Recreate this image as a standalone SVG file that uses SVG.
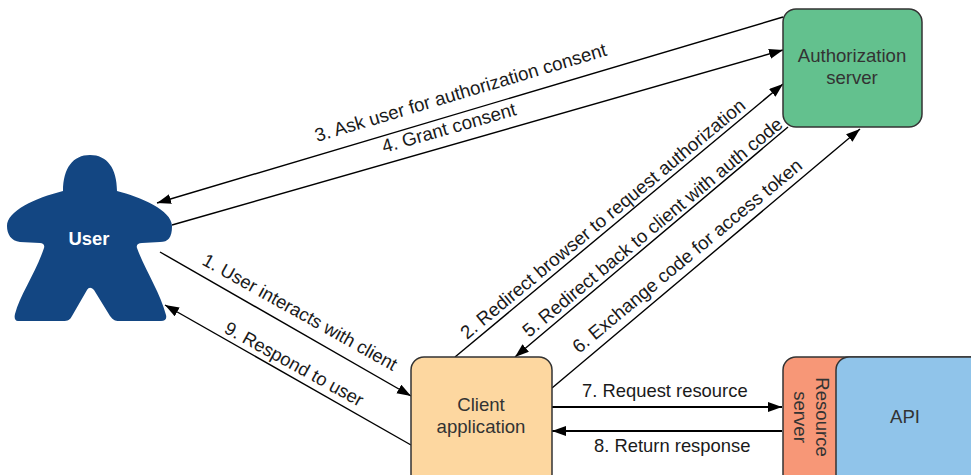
<svg xmlns="http://www.w3.org/2000/svg" width="971" height="475" viewBox="0 0 971 475">
<style>
text{font-family:"Liberation Sans",Arial,sans-serif;font-size:18.4px;fill:#1a1a1a}
.w{font-size:18.75px}
.n{font-size:18.6px;fill:#333;text-anchor:middle}
.box{stroke:#333;stroke-width:1.5}
.c{fill:none;stroke:#000;stroke-width:1.4}
.t{fill:none;stroke:#000;stroke-width:2.2}
</style>
<defs>
<marker id="a" markerUnits="userSpaceOnUse" markerWidth="16" markerHeight="12" refX="14" refY="5" orient="auto"><path d="M0 0L14 5L0 10Z" fill="#000"/></marker>
</defs>
<g id="connectors">
<path class="c" marker-end="url(#a)" d="M783 17L157 203"/>
<path class="c" marker-end="url(#a)" d="M172 225L783 50"/>
<path class="c" marker-end="url(#a)" d="M160 252L411 396"/>
<path class="c" marker-end="url(#a)" d="M411 445L165 305"/>
<path class="c" marker-end="url(#a)" d="M455 357L783 84"/>
<path class="c" marker-end="url(#a)" d="M788 127L515 357"/>
<path class="c" marker-end="url(#a)" d="M552 388L860 129"/>
<path class="t" marker-end="url(#a)" d="M552 407L782 407"/>
<path class="t" marker-end="url(#a)" d="M782 431L552 431"/>
</g>
<g id="labels">
<text class="w" transform="translate(317 142) rotate(-16.6)">3. Ask user for authorization consent</text>
<text class="w" transform="translate(384 153) rotate(-16)">4. Grant consent</text>
<text transform="translate(201 264) rotate(29.2)">1. User interacts with client</text>
<text transform="translate(223 332) rotate(28.8)">9. Respond to user</text>
<text class="w" transform="translate(467 340) rotate(-39.7)">2. Redirect browser to request authorization</text>
<text class="w" transform="translate(529 338) rotate(-39.7)">5. Redirect back to client with auth code</text>
<text class="w" transform="translate(579 354) rotate(-39.7)">6. Exchange code for access token</text>
<text x="582" y="397">7. Request resource</text>
<text x="594" y="452">8. Return response</text>
</g>
<g id="user">
<path fill="#134682" d="M63 191C63 168 73 155 90 155C107 155 117 168 117 191C140 197 172 210 172 226C172 238 168 242 160 242L142 243C138 243 136 245 137 248C145 270 160 292 166 315C167 319 165 321 161 321L119 321C115 321 113 320 110 316L94 290C91 287 89 287 87 290L72 316C70 320 68 321 63 321L18 321C15 321 14 318 15 314C20 295 36 272 44 248C45 245 43 243 40 243L20 242C11 241 7 234 7 226C7 211 35 198 63 191Z"/>
<text x="89" y="245" text-anchor="middle" style="font-weight:bold;font-size:18.4px;fill:#fff">User</text>
</g>
<g id="authorization-server">
<rect class="box" x="783" y="9" width="139" height="118" rx="13" fill="#63c18e"/>
<text class="n"><tspan x="852" y="62">Authorization</tspan><tspan x="852" y="84">server</tspan></text>
</g>
<g id="client-application">
<rect class="box" x="411" y="357" width="141" height="130" rx="13" fill="#fdd7a0"/>
<text class="n"><tspan x="481" y="411">Client</tspan><tspan x="481" y="433">application</tspan></text>
</g>
<g id="resource-server">
<rect class="box" x="783" y="357" width="200" height="130" rx="13" fill="#f79777"/>
<text class="n" transform="translate(816 417) rotate(90)"><tspan x="0" y="0">Resource</tspan><tspan x="0" y="22">server</tspan></text>
</g>
<g id="api">
<rect class="box" x="836" y="357" width="150" height="130" rx="13" fill="#90c4ea"/>
<text class="n" x="905" y="423">API</text>
</g>
</svg>
